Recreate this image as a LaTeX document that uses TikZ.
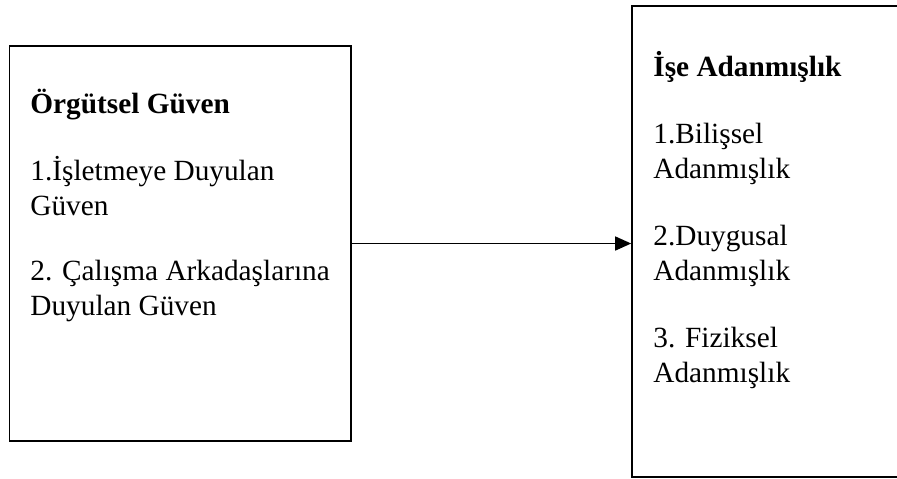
\documentclass[tikz,border=0pt]{standalone}
\usepackage{fontspec}
\setmainfont{Liberation Serif}
\usetikzlibrary{arrows.meta}

\begin{document}
\begin{tikzpicture}[x=0.5pt,y=-0.5pt]
    \tikzstyle{block} = [rectangle,inner sep=0pt,draw=black,line width=0.8pt,fill=white]
    \tikzstyle{boxtext} = [inner sep=0pt,align=left,anchor=base west,font=\fontsize{14.65}{17.5}\selectfont]
    \useasboundingbox (0,0) rectangle (897,478);
    \node (trust)[block,minimum width=170.75pt,minimum height=197.5pt] at (180.25,243.5) {};
    \node (commit)[block,minimum width=150pt,minimum height=235.5pt] at (782,241.5) {};
    \node (trusttext)[boxtext] at (30,315) {\textbf{Örgütsel Güven}\\[16pt]
        1.İşletmeye Duyulan\\ Güven\\[15pt]
        2. Çalışma Arkadaşlarına\\ Duyulan Güven};
    \node (committext)[boxtext] at (653,382) {\textbf{İşe Adanmışlık}\\[16pt]
        1.Bilişsel\\ Adanmışlık\\[16pt]
        2.Duygusal\\ Adanmışlık\\[16pt]
        3. Fiziksel\\ Adanmışlık};
    \draw [-{Triangle[length=8pt,width=7pt]},line width=0.7pt] (trust.east) -- (trust.east -| commit.west);
\end{tikzpicture}
\end{document}
